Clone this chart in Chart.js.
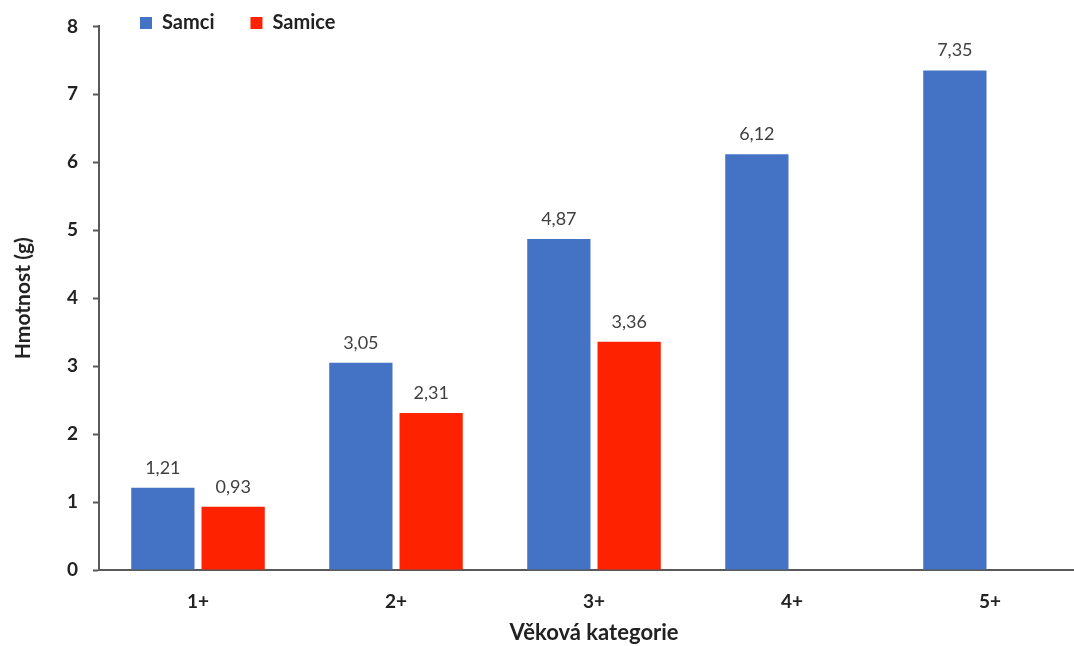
<!DOCTYPE html>
<html>
<head>
<meta charset="utf-8">
<script src="https://cdn.jsdelivr.net/npm/chart.js@4/dist/chart.umd.min.js"></script>
<style>
  html, body { margin: 0; padding: 0; background: #fff; overflow: hidden; }
  #wrap { width: 1092px; height: 646px; }
</style>
</head>
<body>
<div id="wrap"><canvas id="chart"></canvas></div>
<script>
const categories = ['1+', '2+', '3+', '4+', '5+'];
const samci = [1.21, 3.05, 4.87, 6.12, 7.35];
const samice = [0.93, 2.31, 3.36, null, null];
const yTicks = [0, 1, 2, 3, 4, 5, 6, 7, 8];

const FONT = 'Lato, "Open Sans", sans-serif';
const TEXT = '#222222';
const AXIS = '#595959';

// value labels above bars, czech decimal comma
const barLabels = {
    id: 'barLabels',
    afterDatasetsDraw(chart) {
        const ctx = chart.ctx;
        ctx.save();
        ctx.font = '18px ' + FONT;
        ctx.fillStyle = '#404040';
        ctx.textAlign = 'center';
        ctx.textBaseline = 'middle';
        chart.data.datasets.forEach((ds, i) => {
            chart.getDatasetMeta(i).data.forEach((bar, j) => {
                const v = ds.data[j];
                if (v == null) return;
                ctx.fillText(v.toFixed(2).replace('.', ','), bar.x, bar.y - 20);
            });
        });
        ctx.restore();
    }
};

// legend sits over the top of the plot, like the original
const legendOverlay = {
    id: 'legendOverlay',
    afterLayout(chart) {
        const lg = chart.legend;
        if (!lg) return;
        lg.top = -23;
        lg.bottom = 45;
        lg.left = 104;
        lg.right = 700;
    }
};

new Chart('chart', {
    type: 'bar',
    data: {
        labels: categories,
        datasets: [{
            label: 'Samci',
            data: samci,
            backgroundColor: '#4472C4',
            borderWidth: 0
        }, {
            label: 'Samice',
            data: samice,
            backgroundColor: '#FF2200',
            borderWidth: 0
        }]
    },
    options: {
        responsive: true,
        maintainAspectRatio: false,
        devicePixelRatio: 1,
        animation: false,
        categoryPercentage: 0.71,
        barPercentage: 0.9,
        layout: {
            padding: { top: 23, right: 3, bottom: 0, left: 0 }
        },
        plugins: {
            tooltip: { enabled: false },
            legend: {
                position: 'top',
                align: 'start',
                maxHeight: 1,
                labels: {
                    boxWidth: 12,
                    boxHeight: 12,
                    padding: 36,
                    color: TEXT,
                    font: { family: FONT, size: 20, weight: 'bold' }
                }
            }
        },
        scales: {
            x: {
                afterFit: s => { s.height = 76; },
                grid: { display: false, drawTicks: false },
                border: { display: true, color: AXIS, width: 2 },
                ticks: {
                    padding: 20,
                    color: TEXT,
                    font: { family: FONT, size: 19, weight: 'bold' }
                },
                title: {
                    display: true,
                    text: 'Věková kategorie',
                    color: TEXT,
                    padding: { top: 0, bottom: 0 },
                    font: { family: FONT, size: 22, weight: 'bold' }
                }
            },
            y: {
                min: 0,
                max: 8,
                afterFit: s => { s.width = 99; },
                afterBuildTicks: s => { s.ticks = yTicks.map(v => ({ value: v })); },
                grid: {
                    drawOnChartArea: false,
                    drawTicks: true,
                    tickLength: 6,
                    tickWidth: 2,
                    color: AXIS
                },
                border: { display: true, color: AXIS, width: 2 },
                ticks: {
                    padding: 15,
                    color: TEXT,
                    font: { family: FONT, size: 19, weight: 'bold' }
                },
                title: {
                    display: true,
                    text: 'Hmotnost (g)',
                    color: TEXT,
                    padding: { top: 11, bottom: 0 },
                    font: { family: FONT, size: 21, weight: 'bold' }
                }
            }
        }
    },
    plugins: [barLabels, legendOverlay]
});
</script>
</body>
</html>
